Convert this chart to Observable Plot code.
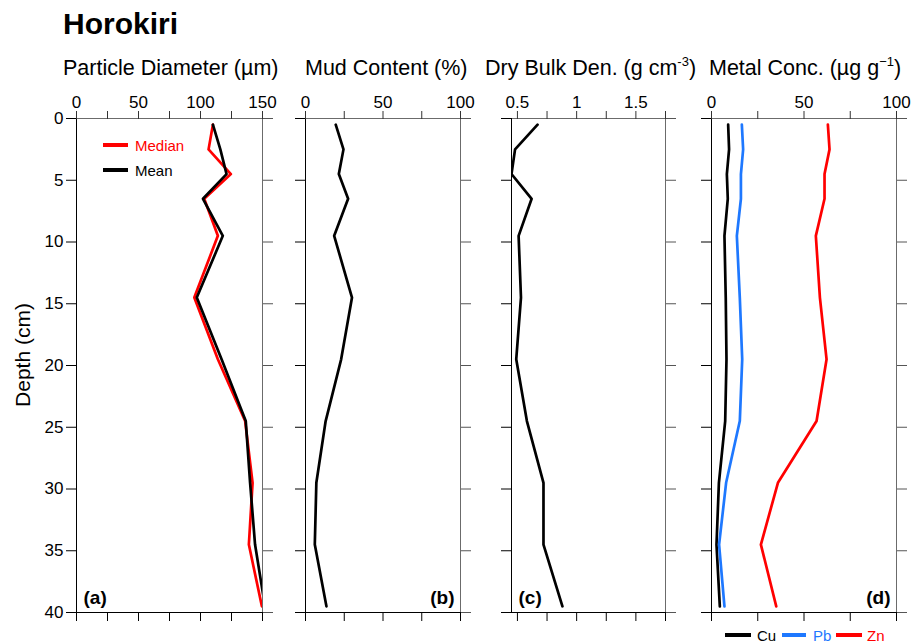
<!DOCTYPE html>
<html><head><meta charset="utf-8">
<script src="https://cdn.jsdelivr.net/npm/d3@7"></script>
<script src="https://cdn.jsdelivr.net/npm/@observablehq/plot@0.6"></script>
<style>
body{margin:0;background:#fff;font-family:"Liberation Sans",Arial,sans-serif}
#root{position:relative;width:913px;height:643px;overflow:hidden;background:#fff}
.abs{position:absolute;white-space:nowrap;line-height:1}
svg{overflow:visible}
</style></head>
<body><div id="root"></div>
<script>
// ---- data ----
const depths = [0.5, 2.5, 4.5, 6.5, 9.5, 14.5, 19.5, 24.5, 29.5, 34.5, 39.5];
const medianDiameter = [110, 106.5, 124.5, 103, 114, 95, 114, 136, 142, 139, 149.5];
const meanDiameter   = [110, 116, 121, 102, 118, 97, 117, 136.5, 140, 144, 152];
const mudContent     = [19.5, 24.5, 21.5, 27.5, 18.5, 30, 23, 13, 7, 6, 13.5];
const dryBulkDensity = [0.67, 0.48, 0.45, 0.62, 0.51, 0.53, 0.49, 0.58, 0.72, 0.72, 0.88];
const cu = [9.0, 9.5, 8.3, 8.8, 7.0, 7.7, 8.1, 7.4, 4.0, 2.7, 4.5];
const pb = [16.4, 17.1, 15.9, 15.9, 13.7, 15.3, 16.6, 15.3, 7.9, 4.1, 7.0];
const zn = [62.9, 63.8, 61.1, 61.1, 56.4, 58.6, 62.2, 56.8, 35.9, 26.7, 35.0];
const depthTicks = [0, 5, 10, 15, 20, 25, 30, 35, 40];
const titles = ["Particle Diameter (\u00b5m)", "Mud Content (%)", "Dry Bulk Den. (g cm<sup>-3</sup>)", "Metal Conc. (\u00b5g g<sup>\u22121</sup>)"];
const tags = ["(a)", "(b)", "(c)", "(d)"];

const root = document.getElementById("root");
const FONT = '"Liberation Sans", Arial, sans-serif';

function rows(values, name) {
  return depths.map((d, i) => ({depth: d, value: values[i], series: name}));
}

function panel({left, width, mLeft, mRight, domain, ticks, labeled, fmt, series, yLabels, tag, tagRight}) {
  const marks = [
    Plot.frame({stroke: "#6b6b6b"}),
    Plot.ruleX([domain[0]], {stroke: "black"}),
    Plot.ruleY([40], {stroke: "black"}),
    Plot.axisX({anchor: "top", ticks, tickSize: 8, tickPadding: 3, fontSize: 17, stroke: "#333",
      tickFormat: d => labeled.includes(d) ? fmt(d) : "", label: null}),
    Plot.axisX({anchor: "bottom", ticks, tickSize: 9, stroke: "black", tickFormat: () => "", label: null}),
    Plot.axisY({anchor: "left", ticks: depthTicks, tickSize: 10, tickPadding: 3, fontSize: 17, stroke: "black",
      tickFormat: yLabels ? d => String(d) : () => "", label: null}),
    Plot.axisY({anchor: "right", ticks: depthTicks, tickSize: 10, stroke: "#555", tickFormat: () => "", label: null}),
    ...series.map(s => Plot.line(rows(s.values, s.name), {x: "value", y: "depth", stroke: s.color, strokeWidth: 2.7, clip: true})),
    Plot.text([tag], {frameAnchor: tagRight ? "bottom-right" : "bottom-left", dx: tagRight ? -6 : 7, dy: -9,
      textAnchor: tagRight ? "end" : "start", lineAnchor: "bottom", fontSize: 19, fontWeight: "bold", fill: "black"})
  ];
  const svg = Plot.plot({
    width, height: 643,
    marginLeft: mLeft, marginRight: mRight, marginTop: 118, marginBottom: 31,
    x: {domain, axis: null},
    y: {domain: [0, 40], reverse: true, axis: null},
    style: {background: "transparent", fontFamily: FONT, overflow: "visible", color: "black"},
    marks
  });
  svg.style.position = "absolute";
  svg.style.left = left + "px";
  svg.style.top = "0px";
  svg.style.maxWidth = "none";
  root.appendChild(svg);
}

const f0 = d => String(d);
panel({left: 0, width: 290, mLeft: 76, mRight: 28, domain: [0, 150], ticks: [0, 25, 50, 75, 100, 125, 150],
  labeled: [0, 50, 100, 150], fmt: f0, yLabels: true, tag: tags[0], tagRight: false,
  series: [{name: "Median", values: medianDiameter, color: "#ff0000"}, {name: "Mean", values: meanDiameter, color: "black"}]});
panel({left: 290, width: 180, mLeft: 15, mRight: 10, domain: [0, 100], ticks: [0, 25, 50, 75, 100],
  labeled: [0, 50, 100], fmt: f0, yLabels: false, tag: tags[1], tagRight: true,
  series: [{name: "Mud", values: mudContent, color: "black"}]});
panel({left: 470, width: 210, mLeft: 41, mRight: 15, domain: [0.45, 1.75], ticks: [0.5, 0.75, 1, 1.25, 1.5, 1.75],
  labeled: [0.5, 1, 1.5], fmt: f0, yLabels: false, tag: tags[2], tagRight: false,
  series: [{name: "DBD", values: dryBulkDensity, color: "black"}]});
panel({left: 680, width: 233, mLeft: 31, mRight: 17, domain: [0, 100], ticks: [0, 25, 50, 75, 100],
  labeled: [0, 50, 100], fmt: f0, yLabels: false, tag: tags[3], tagRight: true,
  series: [{name: "Cu", values: cu, color: "black"}, {name: "Pb", values: pb, color: "#1e78ff"}, {name: "Zn", values: zn, color: "#ff0000"}]});

// ---- text ----
function addText(html, left, baseline, size, extra = {}) {
  const el = document.createElement("div");
  el.className = "abs";
  el.innerHTML = html;
  el.style.left = left + "px";
  el.style.top = (baseline - 0.8465 * size) + "px";
  el.style.fontSize = size + "px";
  Object.assign(el.style, extra);
  root.appendChild(el);
  return el;
}
addText("Horokiri", 63, 34, 30, {fontWeight: "bold"});
const titleX = [63, 305, 485, 709];
titles.forEach((t, i) => {
  const el = addText(t, titleX[i], 76, 21.5);
  el.querySelectorAll("sup").forEach(s => { s.style.fontSize = "13px"; s.style.verticalAlign = "9px"; s.style.lineHeight = "0"; });
});
const ylab = addText("Depth (cm)", 0, 0, 21);
ylab.style.top = "355px"; ylab.style.left = "22px";
ylab.style.transform = "translate(-50%,-50%) rotate(-90deg)";

function legendItem(label, color, x1, x2, y, tx, size) {
  const line = document.createElement("div");
  line.className = "abs";
  Object.assign(line.style, {left: x1 + "px", top: (y - 2) + "px", width: (x2 - x1) + "px", height: "4px", background: color});
  root.appendChild(line);
  addText(label, tx, y + 0.36 * size, size, {color});
}
legendItem("Median", "#ff0000", 103, 128, 145, 135, 15);
legendItem("Mean", "black", 103, 128, 170, 135, 15);
legendItem("Cu", "black", 725, 751, 635, 757, 15);
legendItem("Pb", "#1e78ff", 782, 806, 635, 813, 15);
legendItem("Zn", "#ff0000", 836, 862, 635, 867, 15);
</script>
</body></html>
